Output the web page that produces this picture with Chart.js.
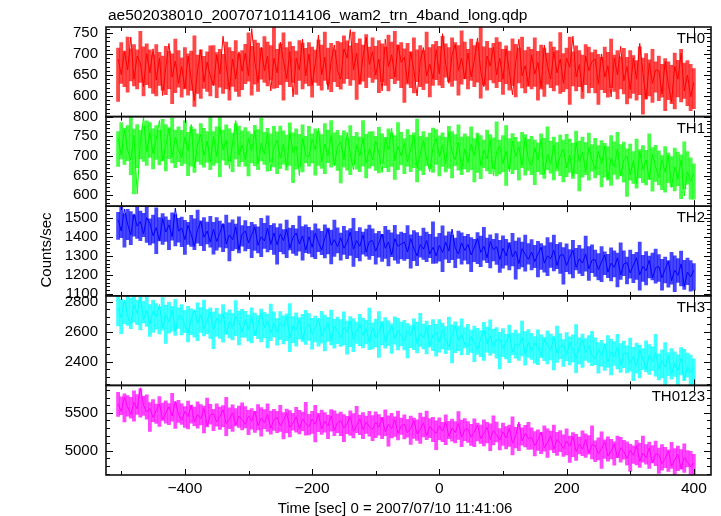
<!DOCTYPE html>
<html>
<head>
<meta charset="utf-8">
<script src="https://cdn.jsdelivr.net/npm/chart.js@4.4.0/dist/chart.umd.min.js"></script>
<style>
  html, body { margin: 0; padding: 0; background: #fff; }
</style>
</head>
<body>
<canvas id="myChart" width="721" height="516"></canvas>
<script>
// time grid: first bin and bin width (sec)
const T0 = -505, DT = 5;

// rate per 5 s bin (the line)
const th0 = [
  688,651,705,662,740,640,695,678,622,701, 655,712,638,690,601,668,725,645,683,630,
  670,618,695,640,588,662,710,633,681,647, 625,698,652,742,671,614,688,640,705,659,
  702,648,760,681,632,716,660,695,612,690, 655,728,683,640,706,598,690,662,735,648,
  700,625,678,745,650,692,615,684,721,660, 640,712,690,758,662,701,628,695,740,675,
  705,650,688,612,735,670,698,645,722,680, 692,631,705,660,600,684,715,648,676,640,
  710,652,748,675,630,698,722,661,690,640, 702,645,685,738,660,622,695,671,716,650,
  690,640,712,658,603,680,735,648,672,625, 698,652,680,620,721,670,640,705,655,688,
  630,690,668,742,645,675,610,695,660,682, 688,628,700,645,672,598,690,650,718,636,
  670,615,690,640,725,655,592,678,630,662, 660,605,682,628,585,670,640,702,612,650,
  598,632
];
const th1 = [
  745,702,768,715,690,752,603,735,798,710, 760,705,742,790,688,725,770,698,748,715,
  695,748,712,780,670,730,755,700,738,684, 750,698,772,715,740,668,735,790,702,728,
  690,745,712,765,680,732,705,758,662,722, 740,695,730,672,760,708,725,650,745,702,
  698,742,715,770,685,730,700,752,675,725, 735,690,760,705,665,728,700,745,682,718,
  690,738,708,658,745,715,770,688,725,700, 732,685,718,752,670,705,740,692,660,722,
  745,698,728,680,762,710,690,735,665,718, 682,730,700,755,675,715,692,740,650,710,
  725,680,712,660,738,698,722,675,748,690, 675,720,690,742,655,705,680,728,668,700,
  718,670,702,648,735,685,710,660,722,690, 665,712,680,725,640,695,672,718,650,690,
  700,652,688,628,712,665,690,640,705,672, 645,690,658,702,620,672,640,690,598,660,
  635,655
];
const th2 = [
  1490,1430,1545,1465,1410,1520,1455,1480,1415,1500, 1470,1405,1448,1380,1495,1425,1462,1400,1550,1430,
  1445,1385,1460,1412,1350,1438,1480,1398,1430,1372, 1440,1375,1420,1470,1362,1410,1385,1452,1330,1415,
  1430,1368,1412,1450,1355,1400,1378,1445,1360,1420, 1358,1415,1380,1440,1340,1398,1420,1362,1405,1330,
  1400,1345,1420,1370,1330,1392,1440,1355,1385,1348, 1395,1340,1372,1425,1335,1380,1350,1410,1320,1375,
  1380,1325,1368,1415,1340,1372,1305,1390,1350,1362, 1372,1320,1390,1338,1300,1360,1335,1380,1310,1345,
  1300,1355,1318,1372,1325,1440,1340,1310,1368,1328, 1360,1305,1345,1390,1318,1350,1290,1375,1332,1348,
  1280,1340,1300,1365,1295,1325,1260,1338,1308,1282, 1320,1270,1310,1345,1262,1300,1285,1330,1250,1305,
  1305,1250,1292,1330,1240,1285,1262,1310,1232,1278, 1280,1228,1268,1305,1215,1262,1240,1290,1200,1258,
  1265,1210,1252,1290,1200,1245,1222,1278,1185,1238, 1245,1185,1232,1272,1170,1225,1198,1258,1140,1215,
  1190,1225
];
const th3 = [
  2760,2690,2810,2705,2650,2775,2720,2830,2680,2740, 2650,2735,2700,2780,2625,2712,2668,2745,2600,2705,
  2700,2640,2590,2688,2745,2655,2710,2620,2678,2730, 2612,2690,2655,2720,2585,2668,2632,2702,2660,2598,
  2680,2615,2700,2575,2650,2725,2628,2672,2590,2655, 2595,2660,2632,2700,2560,2640,2610,2685,2548,2628,
  2650,2585,2625,2690,2570,2618,2660,2540,2638,2600, 2560,2630,2598,2672,2545,2610,2650,2575,2620,2528,
  2625,2560,2600,2662,2532,2590,2640,2555,2610,2575, 2540,2605,2575,2648,2520,2588,2560,2630,2505,2580,
  2598,2530,2612,2548,2500,2575,2640,2540,2585,2515, 2505,2568,2530,2480,2555,2610,2520,2572,2498,2545,
  2550,2490,2528,2585,2465,2520,2505,2560,2450,2530, 2470,2525,2495,2440,2548,2510,2478,2565,2455,2502,
  2512,2450,2530,2475,2420,2498,2545,2462,2505,2440, 2420,2485,2440,2515,2398,2470,2432,2500,2380,2458,
  2455,2390,2435,2370,2480,2418,2350,2445,2402,2462, 2350,2410,2365,2440,2318,2392,2340,2425,2280,2370,
  2330,2362
];
const th0123 = [
  5620,5520,5710,5580,5480,5640,5550,5830,5600,5510, 5560,5440,5530,5620,5410,5500,5580,5460,5650,5480,
  5400,5520,5450,5600,5380,5480,5420,5560,5330,5470, 5490,5380,5450,5540,5360,5420,5500,5340,5460,5410,
  5350,5460,5390,5520,5330,5430,5370,5480,5300,5410, 5440,5330,5400,5500,5310,5370,5450,5290,5420,5360,
  5320,5420,5350,5480,5290,5390,5330,5460,5270,5370, 5400,5300,5360,5450,5260,5330,5420,5280,5380,5320,
  5280,5380,5310,5440,5250,5350,5290,5410,5230,5330, 5350,5240,5300,5400,5220,5280,5370,5200,5320,5270,
  5230,5330,5260,5380,5190,5300,5240,5360,5180,5280, 5290,5180,5250,5340,5160,5230,5310,5150,5270,5210,
  5140,5250,5170,5300,5100,5200,5380,5130,5230,5160, 5180,5070,5140,5250,5040,5110,5200,5020,5150,5100,
  5030,5130,5060,5190,4990,5090,5020,5150,4970,5080, 5070,4960,5030,5120,4930,5000,5090,4910,5040,4990,
  4900,5010,4940,5070,4860,4970,4910,5040,4840,4960, 4950,4830,4900,5000,4800,4880,4960,4760,4910,4850,
  4790,4840
];

// spread of each 5 s bin incl. error bars (low / high edge of the band)
const th0Lo = [
  587,630,622,609,636,624,617,632,600,627, 619,606,600,625,614,603,617,582,608,621,
  597,617,602,613,575,606,594,618,611,600, 626,596,621,606,617,590,623,611,599,615,
  629,635,602,628,611,640,632,624,638,618, 620,627,590,634,622,632,604,637,617,630,
  624,597,632,625,614,637,628,610,634,622, 616,630,641,625,638,592,628,635,620,644,
  632,640,608,634,625,612,641,629,637,620, 585,628,620,607,634,622,615,630,598,625,
  639,626,620,645,634,623,637,602,628,641, 617,637,622,633,595,626,614,638,631,620,
  634,604,629,614,625,598,631,619,607,623, 617,623,590,616,599,628,620,612,626,606,
  610,617,580,624,612,622,594,627,607,620, 607,580,615,608,597,620,611,593,617,605,
  581,595,606,590,603,557,593,600,585,609, 589,597,565,591,582,569,598,586,594,577,
  565,570
];
const th0Hi = [
  714,727,707,740,712,722,710,754,717,724, 710,698,722,704,695,718,707,700,735,708,
  691,715,700,707,743,697,710,694,705,719, 720,703,711,699,728,715,706,732,700,708,
  723,750,718,733,726,714,741,728,720,763, 711,724,750,715,729,718,707,732,726,713,
  727,716,709,733,721,752,714,725,710,730, 727,743,731,719,752,725,736,721,746,716,
  738,718,732,724,716,745,728,754,721,727, 712,725,705,738,710,720,708,752,715,722,
  730,718,742,724,715,738,727,720,755,728, 711,735,720,727,763,717,730,714,725,739,
  728,711,719,707,736,723,714,740,708,716, 711,738,706,721,714,702,729,716,708,751,
  701,714,740,705,719,708,697,722,716,703, 710,699,692,716,704,735,697,708,693,713,
  692,708,696,684,717,690,701,686,711,681, 695,675,689,681,673,702,685,711,678,684,
  675,665
];
const th1Lo = [
  673,692,678,688,652,603,670,693,686,676, 696,667,691,677,687,662,693,682,670,685,
  675,681,650,674,658,686,678,671,684,665, 676,682,647,689,677,687,660,692,673,685,
  674,649,682,675,665,687,678,661,684,672, 655,668,679,664,676,632,667,673,659,682,
  674,682,651,676,668,655,683,671,679,663, 631,672,664,652,678,666,660,674,644,669,
  675,663,657,681,670,660,673,640,665,677, 655,674,660,670,634,663,652,675,668,658,
  678,649,673,659,669,644,675,664,652,667, 659,665,634,658,642,670,662,655,668,649,
  654,660,625,667,655,665,638,670,651,663, 652,627,660,653,643,665,656,639,662,650,
  634,647,658,643,655,611,646,652,638,661, 644,652,621,646,638,625,653,641,649,633,
  597,638,630,618,644,632,626,640,610,635, 626,614,608,632,621,611,624,591,616,628,
  590,590
];
const th1Hi = [
  762,785,771,777,812,768,780,765,776,789, 785,769,777,765,793,780,772,797,766,774,
  765,790,760,774,768,756,782,770,762,803, 762,774,799,766,779,769,758,782,776,764,
  772,762,755,778,767,796,760,770,756,775, 761,776,764,753,784,759,769,755,779,750,
  775,756,769,762,754,782,766,790,759,765, 752,764,745,777,750,760,748,790,755,761,
  762,750,773,756,747,769,759,752,785,760, 744,767,753,759,794,750,762,747,758,771,
  767,751,759,747,775,762,754,779,748,756, 749,774,744,758,752,740,766,754,746,787,
  740,752,777,744,757,747,736,760,754,742, 750,740,733,756,745,774,738,748,734,753,
  740,755,743,732,763,738,748,734,758,729, 745,726,739,732,724,752,736,760,729,735,
  718,730,711,743,716,726,714,756,721,727, 713,701,724,707,698,720,710,703,736,711,
  695,680
];
const th2Lo = [
  1386,1395,1346,1385,1359,1403,1391,1379,1400,1370, 1357,1367,1312,1378,1360,1375,1333,1382,1352,1372,
  1348,1307,1360,1349,1333,1367,1354,1327,1363,1345, 1309,1330,1346,1322,1342,1273,1327,1337,1315,1351,
  1326,1338,1290,1329,1315,1296,1339,1321,1333,1308, 1257,1322,1310,1290,1331,1313,1302,1325,1277,1317,
  1313,1294,1285,1322,1306,1289,1310,1258,1297,1316, 1278,1308,1285,1302,1245,1291,1273,1309,1299,1282,
  1301,1256,1293,1271,1287,1247,1296,1278,1260,1284, 1276,1285,1236,1275,1249,1293,1281,1269,1290,1260,
  1262,1272,1217,1283,1265,1280,1238,1287,1257,1277, 1258,1217,1270,1259,1243,1277,1264,1237,1273,1255,
  1214,1235,1251,1227,1247,1178,1232,1242,1220,1256, 1226,1238,1190,1229,1215,1196,1239,1221,1233,1208,
  1152,1217,1205,1185,1226,1208,1197,1220,1172,1212, 1193,1174,1165,1202,1186,1169,1190,1138,1177,1196,
  1153,1183,1160,1177,1120,1166,1148,1184,1174,1157, 1166,1121,1158,1136,1152,1112,1161,1143,1125,1149,
  1115,1120
];
const th2Hi = [
  1528,1568,1520,1543,1532,1514,1555,1535,1523,1588, 1494,1513,1552,1500,1521,1504,1488,1525,1516,1497,
  1503,1486,1476,1512,1494,1540,1483,1500,1477,1507, 1476,1500,1482,1464,1513,1473,1489,1467,1504,1459,
  1485,1455,1476,1464,1452,1496,1470,1509,1460,1469, 1448,1468,1438,1487,1445,1460,1442,1508,1453,1463,
  1450,1432,1468,1441,1428,1462,1446,1435,1488,1447, 1419,1455,1433,1443,1497,1428,1448,1424,1440,1461,
  1442,1417,1429,1411,1454,1435,1421,1460,1412,1424, 1418,1458,1410,1433,1422,1404,1445,1425,1413,1478,
  1399,1418,1457,1405,1426,1409,1393,1430,1421,1402, 1413,1396,1386,1422,1404,1450,1393,1410,1387,1417,
  1381,1405,1387,1369,1418,1378,1394,1372,1409,1364, 1385,1355,1376,1364,1352,1396,1370,1409,1360,1369,
  1343,1363,1333,1382,1340,1355,1337,1403,1348,1358, 1330,1312,1348,1321,1308,1342,1326,1315,1368,1327,
  1294,1330,1308,1318,1372,1303,1323,1299,1315,1336, 1307,1282,1294,1276,1319,1300,1286,1325,1277,1289,
  1275,1260
];
const th3Lo = [
  2639,2587,2654,2641,2620,2663,2646,2612,2658,2635, 2568,2595,2616,2585,2610,2523,2591,2604,2576,2622,
  2578,2593,2532,2581,2564,2540,2595,2572,2587,2555, 2488,2570,2555,2530,2582,2559,2545,2574,2513,2564,
  2562,2537,2526,2573,2553,2532,2558,2492,2541,2566, 2510,2548,2519,2540,2468,2527,2504,2550,2536,2515,
  2542,2485,2532,2504,2524,2473,2536,2513,2490,2521, 2502,2513,2451,2500,2468,2523,2508,2492,2519,2481,
  2486,2499,2429,2513,2490,2509,2456,2518,2480,2505, 2479,2427,2494,2481,2460,2503,2486,2452,2498,2475,
  2438,2465,2486,2455,2480,2393,2461,2474,2446,2492, 2448,2463,2402,2451,2434,2410,2465,2442,2457,2425,
  2353,2435,2420,2395,2447,2424,2410,2439,2378,2429, 2417,2392,2381,2428,2408,2387,2413,2347,2396,2421,
  2370,2408,2379,2400,2328,2387,2364,2410,2396,2375, 2382,2325,2372,2344,2364,2313,2376,2353,2330,2361,
  2327,2338,2276,2325,2293,2348,2333,2317,2344,2306, 2281,2294,2224,2308,2285,2304,2251,2313,2275,2300,
  2245,2245
];
const th3Hi = [
  2835,2814,2800,2846,2823,2882,2810,2831,2802,2840, 2779,2810,2787,2764,2827,2776,2796,2768,2815,2758,
  2779,2741,2768,2752,2737,2792,2760,2809,2747,2758, 2730,2755,2717,2779,2726,2745,2722,2806,2736,2749,
  2735,2712,2758,2724,2707,2750,2729,2716,2783,2731, 2688,2734,2706,2719,2787,2700,2725,2694,2715,2742,
  2720,2688,2703,2680,2735,2711,2694,2743,2682,2697, 2681,2732,2671,2700,2686,2663,2715,2690,2675,2757,
  2659,2684,2733,2667,2693,2672,2652,2699,2688,2663, 2675,2654,2640,2686,2663,2722,2650,2671,2642,2680,
  2649,2680,2657,2634,2697,2646,2666,2638,2685,2628, 2649,2611,2638,2622,2607,2662,2630,2679,2617,2628,
  2595,2620,2582,2644,2591,2610,2587,2671,2601,2614, 2590,2567,2613,2579,2562,2605,2584,2571,2638,2586,
  2548,2594,2566,2579,2647,2560,2585,2554,2575,2602, 2560,2528,2543,2520,2575,2551,2534,2583,2522,2537,
  2506,2557,2496,2525,2511,2488,2540,2515,2500,2582, 2454,2479,2528,2462,2488,2467,2447,2494,2483,2458,
  2445,2420
];
const th0123Lo = [
  5452,5476,5380,5458,5431,5392,5479,5443,5467,5416, 5255,5384,5360,5321,5402,5366,5345,5390,5294,5375,
  5347,5308,5290,5365,5332,5299,5341,5236,5314,5353, 5266,5326,5281,5314,5200,5293,5257,5329,5308,5275,
  5302,5212,5287,5242,5275,5194,5293,5257,5221,5269, 5238,5256,5157,5235,5184,5271,5247,5223,5265,5205,
  5209,5230,5119,5251,5215,5245,5161,5260,5200,5239, 5201,5120,5225,5204,5171,5240,5213,5159,5231,5195,
  5133,5175,5208,5160,5199,5061,5169,5190,5145,5217, 5157,5181,5085,5163,5136,5097,5184,5148,5172,5121,
  5015,5144,5120,5081,5162,5126,5105,5150,5054,5135, 5112,5073,5055,5130,5097,5064,5106,5001,5079,5118,
  5011,5071,5026,5059,4945,5038,5002,5074,5053,5020, 5022,4932,5007,4962,4995,4914,5013,4977,4941,4989,
  4928,4946,4847,4925,4874,4961,4937,4913,4955,4895, 4859,4880,4769,4901,4865,4895,4811,4910,4850,4889,
  4811,4730,4835,4814,4781,4850,4823,4769,4841,4805, 4703,4745,4778,4730,4769,4631,4739,4760,4715,4787,
  4675,4675
];
const th0123Hi = [
  5770,5710,5752,5728,5704,5791,5740,5818,5719,5737, 5636,5675,5615,5714,5630,5660,5624,5756,5645,5666,
  5620,5584,5656,5602,5575,5644,5611,5590,5695,5614, 5548,5620,5575,5596,5704,5566,5605,5557,5590,5632,
  5584,5533,5557,5521,5608,5569,5542,5620,5524,5548, 5520,5601,5505,5550,5529,5493,5574,5535,5511,5640,
  5482,5521,5599,5494,5536,5503,5470,5545,5527,5488, 5510,5477,5456,5528,5492,5585,5471,5504,5459,5519,
  5466,5514,5478,5442,5541,5460,5493,5448,5523,5433, 5475,5415,5457,5433,5409,5496,5445,5523,5424,5442,
  5396,5435,5375,5474,5390,5420,5384,5516,5405,5426, 5385,5349,5421,5367,5340,5409,5376,5355,5460,5379,
  5293,5365,5320,5341,5449,5311,5350,5302,5335,5377, 5304,5253,5277,5241,5328,5289,5262,5340,5244,5268,
  5210,5291,5195,5240,5219,5183,5264,5225,5201,5330, 5132,5171,5249,5144,5186,5153,5120,5195,5177,5138,
  5120,5087,5066,5138,5102,5195,5081,5114,5069,5129, 5036,5084,5048,5012,5111,5030,5063,5018,5093,5003,
  4995,4955
];

const panelNames = ["TH0", "TH1", "TH2", "TH3", "TH0123"];
const panelSeries = [th0, th1, th2, th3, th0123];
const panelLo = [th0Lo, th1Lo, th2Lo, th3Lo, th0123Lo];
const panelHi = [th0Hi, th1Hi, th2Hi, th3Hi, th0123Hi];
const panelColors = ["#ff0000", "#00ff00", "#0000ff", "#00ffff", "#ff00ff"];
const bandColors = ["rgba(255,0,0,0.72)", "rgba(0,255,0,0.72)", "rgba(0,0,255,0.72)", "rgba(0,255,255,0.75)", "rgba(255,0,255,0.72)"];
const panelMin = [551, 572, 1091, 2244, 4682];
const panelMax = [764, 800, 1560, 2838, 5862];
const majorStep = [50, 50, 100, 200, 500];
const minorStep = [10, 10, 20, 50, 100];

const titleText = "ae502038010_20070710114106_wam2_trn_4band_long.qdp";
const xTitle = "Time [sec] 0 = 2007/07/10 11:41:06";
const yTitle = "Counts/sec";
const FAMILY = '"Liberation Sans", Arial, Helvetica, sans-serif';
const tickFont = { family: FAMILY, size: 15 };

function minus(v) {
  return v < 0 ? "\u2212" + Math.abs(v) : String(v);
}

const datasets = [];
const scales = {
  x: {
    type: 'linear', position: 'bottom', min: -524, max: 427, offset: false,
    grid: { display: false, drawTicks: false, offset: false }, border: { display: false },
    ticks: {
      stepSize: 200, includeBounds: false, maxRotation: 0, padding: 4,
      color: '#000', font: { family: FAMILY, size: 15.5 },
      callback: (v) => minus(v)
    },
    afterFit: (s) => { s.height = 41; }
  }
};

panelSeries.forEach((arr, i) => {
  const id = 'y' + i;
  datasets.push({
    type: 'bar', yAxisID: id, order: 2, grouped: false,
    data: arr.map((v, k) => ({ x: T0 + DT * k, y: [panelLo[i][k], panelHi[i][k]] })),
    backgroundColor: bandColors[i], borderWidth: 0,
    barPercentage: 1, categoryPercentage: 1
  });
  datasets.push({
    type: 'line', yAxisID: id, order: 1,
    data: arr.map((v, k) => ({ x: T0 + DT * k, y: v })),
    borderColor: panelColors[i], borderWidth: 1, pointRadius: 0,
    borderJoinStyle: 'round', tension: 0
  });
});

// stacked axes are laid out bottom-up, so add them from the last panel
for (let i = panelSeries.length - 1; i >= 0; i--) {
  scales['y' + i] = {
    type: 'linear', position: 'left', stack: 'panels', stackWeight: 1, offset: false,
    min: panelMin[i], max: panelMax[i],
    grid: { display: false, drawTicks: false }, border: { display: false },
    ticks: { padding: 8, autoSkip: false, color: '#000', font: tickFont, callback: (v) => String(v) },
    afterBuildTicks: (s) => {
      const step = majorStep[i], out = [];
      for (let v = Math.ceil(s.min / step) * step; v <= s.max; v += step) out.push({ value: v });
      s.ticks = out;
    },
    afterFit: (s) => { s.width = 106; }
  };
}

// keep every panel's marks inside its own frame
const panelClip = {
  id: 'panelClip',
  beforeDatasetDraw(chart, args) {
    const s = chart.scales[chart.data.datasets[args.index].yAxisID], a = chart.chartArea;
    chart.ctx.save();
    chart.ctx.beginPath();
    chart.ctx.rect(a.left, s.top, a.right - a.left, s.bottom - s.top);
    chart.ctx.clip();
  },
  afterDatasetDraw(chart) {
    chart.ctx.restore();
  }
};

const qdpFrame = {
  id: 'qdpFrame',
  afterDraw(chart) {
    const ctx = chart.ctx, a = chart.chartArea, xs = chart.scales.x;
    ctx.save();
    ctx.fillStyle = '#000';
    ctx.font = '15px ' + FAMILY;

    panelSeries.forEach((arr, i) => {
      const s = chart.scales['y' + i];
      ctx.strokeStyle = '#000';
      ctx.lineWidth = 1;
      ctx.beginPath();
      // y ticks, inward on both sides
      const first = Math.ceil(s.min / minorStep[i]) * minorStep[i];
      for (let v = first; v <= s.max; v += minorStep[i]) {
        const y = Math.round(s.getPixelForValue(v)) + 0.5;
        const len = (v % majorStep[i] === 0) ? 7 : 4;
        ctx.moveTo(a.left, y); ctx.lineTo(a.left + len, y);
        ctx.moveTo(a.right, y); ctx.lineTo(a.right - len, y);
      }
      // x ticks on top and bottom of every panel
      for (let t = -500; t <= 400; t += 100) {
        const x = Math.round(xs.getPixelForValue(t)) + 0.5;
        const len = (t % 200 === 0) ? 6 : 4;
        ctx.moveTo(x, s.top); ctx.lineTo(x, s.top + len);
        ctx.moveTo(x, s.bottom); ctx.lineTo(x, s.bottom - len);
      }
      ctx.stroke();

      ctx.lineWidth = 1.6;
      ctx.strokeStyle = '#111';
      ctx.strokeRect(a.left, s.top, a.right - a.left, s.bottom - s.top);

      ctx.textAlign = 'right';
      ctx.fillText(panelNames[i], a.right - 6, s.top + 16);
    });

    ctx.textAlign = 'center';
    ctx.fillText(xTitle, 395, 513);
    ctx.font = '15.5px ' + FAMILY;
    ctx.textAlign = 'left';
    ctx.fillText(titleText, 108, 20);
    ctx.font = '15px ' + FAMILY;
    ctx.translate(51, 250);
    ctx.rotate(-Math.PI / 2);
    ctx.textAlign = 'center';
    ctx.fillText(yTitle, 0, 0);
    ctx.restore();
  }
};

new Chart(document.getElementById("myChart"), {
  type: 'line',
  data: { datasets: datasets },
  options: {
    responsive: false,
    animation: false,
    layout: { padding: { top: 27, right: 10, left: 0, bottom: 0 } },
    plugins: { legend: { display: false }, tooltip: { enabled: false }, title: { display: false } },
    scales: scales
  },
  plugins: [panelClip, qdpFrame]
});
</script>
</body>
</html>
